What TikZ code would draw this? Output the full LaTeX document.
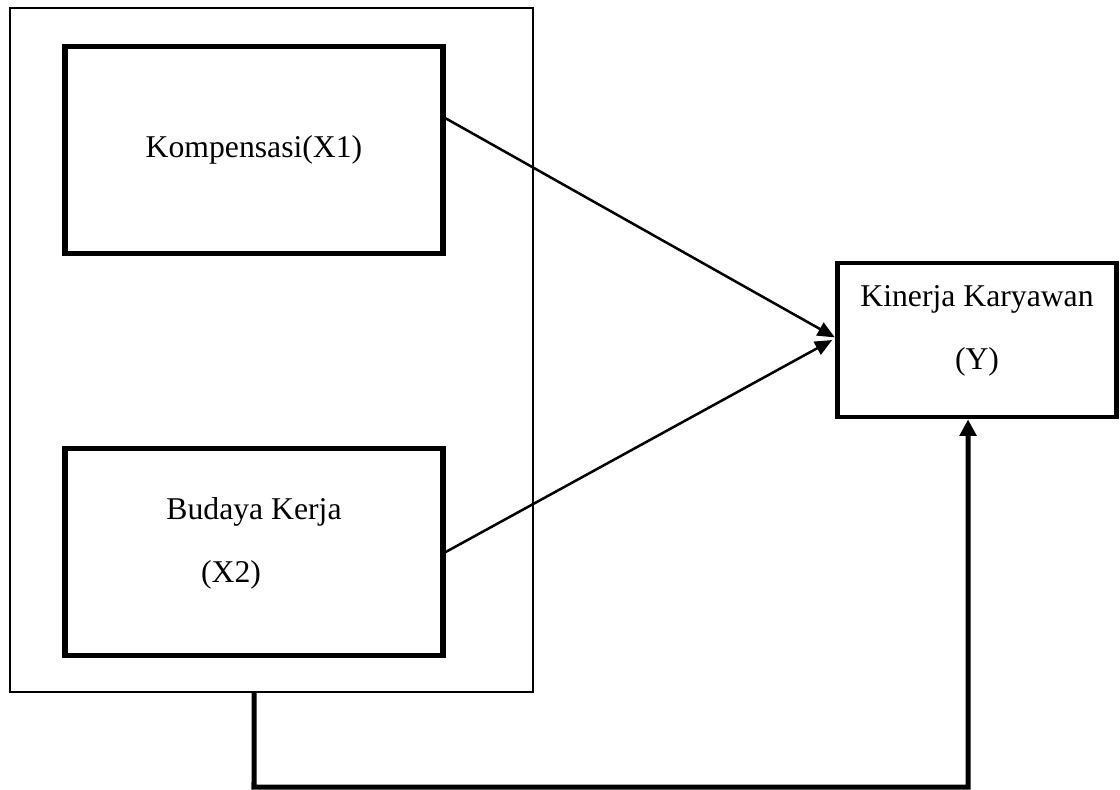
\documentclass[tikz,border=0pt]{standalone}
\usepackage{fontspec}
\setmainfont{Liberation Serif}
\usetikzlibrary{arrows.meta,positioning}

\tikzset{
  outerbox/.style={draw,line width=0.75pt,minimum width=6.96cm,minimum height=9.1cm,inner sep=0pt},
  varbox/.style={draw,line width=2pt,minimum width=5.03cm,minimum height=2.75cm,inner sep=0pt},
  ybox/.style={draw,line width=1.8pt,minimum width=3.72cm,minimum height=2.05cm,inner sep=0pt},
  lbl/.style={font=\fontsize{12}{14}\selectfont,inner sep=0pt},
  link/.style={line width=0.95pt,-{Triangle[length=6.5pt,width=5.5pt]}},
  feedback/.style={line width=1.9pt,-{Triangle[length=6.2pt,width=6.2pt]}}
}

\begin{document}
\begin{tikzpicture}[x=0.0133cm,y=-0.0133cm]
\useasboundingbox (0,0) rectangle (1120,789);

%X variables
\node[outerbox] (group) at (271.5,350) {};
\node[varbox] (komp) at (254,150) {};
\node[varbox] (budaya) at (254,552) {};
\node[lbl] (kompT) at (komp.center) {Kompensasi(X1)};
\node[lbl] (budayaT) at ([yshift=15pt]budaya.center) {Budaya Kerja};
\node[lbl] (budayaX) at ([xshift=-8.7pt,yshift=-8.7pt]budaya.center) {(X2)};

%Y variable
\node[ybox] (kinerja) at (977,340) {};
\node[lbl] (kinerjaT) at ([yshift=15.5pt]kinerja.center) {Kinerja Karyawan};
\node[lbl] (kinerjaY) at ([yshift=-8.3pt]kinerja.center) {(Y)};

%Arrows
\draw[link] ([yshift=12pt]komp.east) -- ([yshift=1pt]kinerja.west);
\draw[link] (budaya.east) -- ([xshift=-1pt]kinerja.west);

\coordinate (bend) at (254,787);
\draw[feedback] ([xshift=-6.6pt]group.south) -- (bend) -| ([xshift=-3.4pt]kinerja.south);
\end{tikzpicture}
\end{document}
